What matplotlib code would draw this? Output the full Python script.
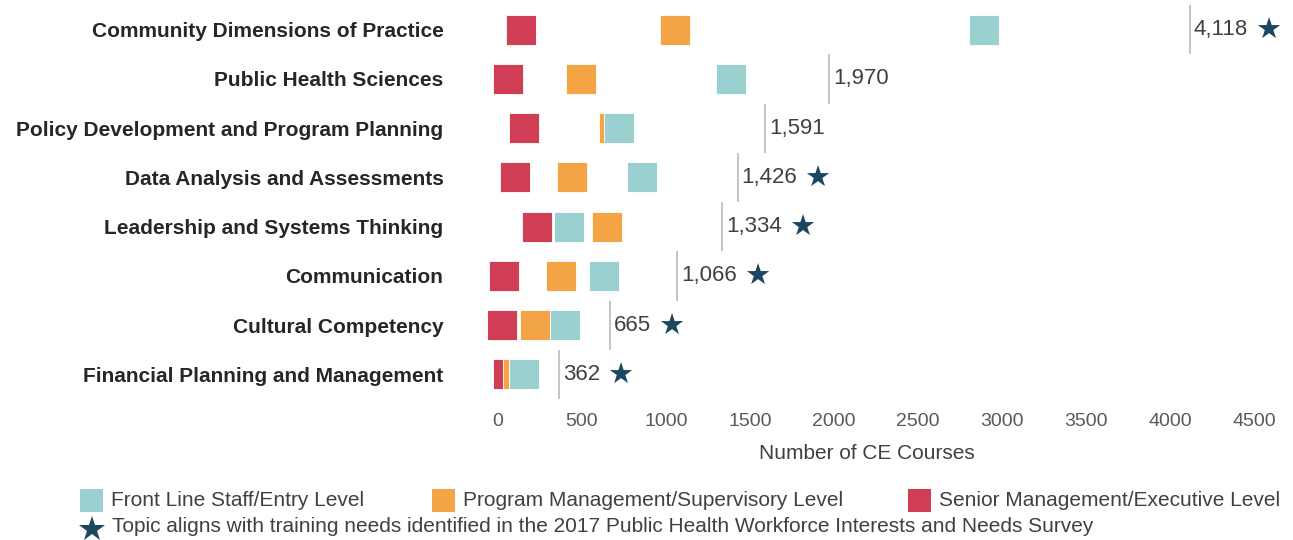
import matplotlib
matplotlib.use("Agg")
import matplotlib.pyplot as plt
from matplotlib.patches import Rectangle
from matplotlib.lines import Line2D

# data
categories = [
    "Community Dimensions of Practice",
    "Public Health Sciences",
    "Policy Development and Program Planning",
    "Data Analysis and Assessments",
    "Leadership and Systems Thinking",
    "Communication",
    "Cultural Competency",
    "Financial Planning and Management",
]
front_line = [2895, 1387, 722, 858, 424, 630, 398, 156]
program_mgmt = [1056, 496, 692, 441, 647, 377, 219, 120]
senior_mgmt = [139, 60, 156, 100, 234, 37, 21, 60]
totals = [4118, 1970, 1591, 1426, 1334, 1066, 665, 362]
aligned = [True, False, False, True, True, True, True, True]

series_names = ["Front Line Staff/Entry Level",
                "Program Management/Supervisory Level",
                "Senior Management/Executive Level"]
x_ticks = [0, 500, 1000, 1500, 2000, 2500, 3000, 3500, 4000, 4500]

teal = "#9BD0D1"
orange = "#F4A445"
red = "#D03E55"
navy = "#1D4760"
txt = "#404040"

plt.rcParams["font.family"] = ["Liberation Sans", "DejaVu Sans"]

W, H = 1293, 540
fig = plt.figure(figsize=(W / 100, H / 100), dpi=100)
ax = fig.add_axes([479.5 / W, 1 - 399 / H, (1254 - 479.5) / W, 394 / H])

ypos = list(range(len(categories)))

# markers: red at the bottom, then orange, teal on top
for vals, col, z in [(senior_mgmt, red, 3), (program_mgmt, orange, 4), (front_line, teal, 5)]:
    ax.plot(vals, ypos, linestyle="none", marker="s", markersize=22,
            markerfacecolor=col, markeredgecolor="white", markeredgewidth=0.6, zorder=z)

# total lines with labels and stars
ax.vlines(totals, [y - 0.5 for y in ypos], [y + 0.5 for y in ypos],
          color="#BFBFBF", linewidth=1.3, zorder=2)
for y, t, a in zip(ypos, totals, aligned):
    lab = ax.annotate(f"{t:,}", xy=(t, y), xytext=(3, 0), textcoords="offset points",
                      ha="left", va="center", fontsize=16, color=txt)
    if a:
        ax.annotate("\u2605", xy=(1, 0.5), xycoords=lab, xytext=(5, -1),
                    textcoords="offset points", ha="left", va="center",
                    fontsize=21, color=navy, family="DejaVu Sans", annotation_clip=False)

ax.set_xlim(-110, 4500)
ax.set_ylim(len(categories) - 0.5, -0.5)
ax.set_xticks(x_ticks)
ax.set_xticklabels([str(v) for v in x_ticks], fontsize=14, color="#595959")
ax.set_yticks(ypos)
ax.set_yticklabels(categories, fontsize=15, fontweight="bold", color="#262626")
ax.tick_params(axis="both", length=0)
ax.tick_params(axis="y", pad=26)
ax.tick_params(axis="x", pad=10)
for s in ax.spines.values():
    s.set_visible(False)
ax.set_xlabel("Number of CE Courses", fontsize=15, color=txt, labelpad=10)

# legend drawn by hand at the bottom
legend_x = [80, 432, 908]
for lx, col, name in zip(legend_x, [teal, orange, red], series_names):
    fig.add_artist(Rectangle((lx / W, 1 - 512 / H), 23 / W, 23 / H,
                             transform=fig.transFigure, facecolor=col, edgecolor="none"))
    fig.text((lx + 31) / W, 1 - 500 / H, name, fontsize=15, color=txt, va="center", ha="left")
fig.add_artist(Line2D([92 / W], [1 - 529 / H], transform=fig.transFigure, linestyle="none",
                      marker="*", markersize=19, color=navy, markeredgewidth=0))
fig.text(112 / W, 1 - 526 / H,
         "Topic aligns with training needs identified in the 2017 Public Health Workforce Interests and Needs Survey",
         fontsize=15, color=txt, va="center", ha="left")

fig.savefig("out.png", dpi=100, facecolor="white")
